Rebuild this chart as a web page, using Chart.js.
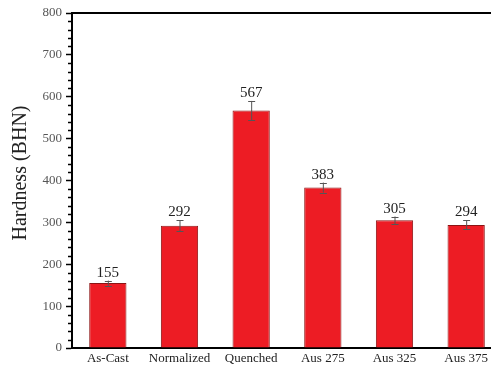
<!DOCTYPE html>
<html>
<head>
<meta charset="utf-8">
<script src="https://cdn.jsdelivr.net/npm/chart.js@4.4.1/dist/chart.umd.min.js"></script>
<style>
  html, body { margin: 0; padding: 0; background: #fff; overflow: hidden; }
  #wrap { width: 491px; height: 369px; overflow: hidden; }
</style>
</head>
<body>
<div id="wrap">
  <canvas id="myChart" width="505" height="369"></canvas>
</div>
<script>
var categories = ['As-Cast', 'Normalized', 'Quenched', 'Aus 275', 'Aus 325', 'Aus 375'];
var hardness = [155, 292, 567, 383, 305, 294];
var hardnessErr = [6, 13, 23, 12, 9, 11];
var yTicks = [0, 100, 200, 300, 400, 500, 600, 700, 800];

var serif = '"Liberation Serif", "DejaVu Serif", serif';

// frame line, minor ticks, error bars, value labels and the y title
var extras = {
  id: 'extras',
  afterDatasetsDraw: function(chart) {
    var ctx = chart.ctx;
    var area = chart.chartArea;
    var x = chart.scales.x;
    var y = chart.scales.y;
    var meta = chart.getDatasetMeta(0);

    ctx.save();

    // minor ticks every 20
    ctx.strokeStyle = '#000';
    ctx.lineWidth = 1.5;
    for (var v = 0; v <= 800; v += 20) {
      if (v % 100 === 0) continue;
      var py = Math.round(y.getPixelForValue(v)) + 0.5;
      ctx.beginPath();
      ctx.moveTo(area.left - 4, py);
      ctx.lineTo(area.left, py);
      ctx.stroke();
    }

    // top border
    ctx.lineWidth = 2;
    ctx.beginPath();
    ctx.moveTo(area.left - 1, area.top);
    ctx.lineTo(chart.width, area.top);
    ctx.stroke();

    // error bars + labels
    for (var i = 0; i < hardness.length; i++) {
      var bar = meta.data[i];
      var cx = bar.x;
      var yHi = y.getPixelForValue(hardness[i] + hardnessErr[i]);
      var yLo = y.getPixelForValue(hardness[i] - hardnessErr[i]);
      ctx.strokeStyle = '#555';
      ctx.lineWidth = 1;
      ctx.beginPath();
      ctx.moveTo(cx + 0.5, yLo);
      ctx.lineTo(cx + 0.5, yHi);
      ctx.moveTo(cx - 3, Math.round(yHi) + 0.5);
      ctx.lineTo(cx + 4, Math.round(yHi) + 0.5);
      ctx.moveTo(cx - 3, Math.round(yLo) + 0.5);
      ctx.lineTo(cx + 4, Math.round(yLo) + 0.5);
      ctx.stroke();

      ctx.fillStyle = '#222';
      ctx.font = '15px ' + serif;
      ctx.textAlign = 'center';
      ctx.textBaseline = 'alphabetic';
      ctx.fillText(String(hardness[i]), cx, yHi - 4);
    }

    // y axis title
    ctx.translate(26, 173);
    ctx.rotate(-Math.PI / 2);
    ctx.fillStyle = '#222';
    ctx.font = '20px ' + serif;
    ctx.textAlign = 'center';
    ctx.textBaseline = 'alphabetic';
    ctx.fillText('Hardness (BHN)', 0, 0);

    ctx.restore();
  }
};

var chartData = {
  labels: categories,
  datasets: [{
    label: 'Hardness',
    data: hardness,
    backgroundColor: 'rgb(237, 28, 36)',
    borderColor: 'rgb(140, 20, 20)',
    borderWidth: 1,
    borderSkipped: 'bottom',
    categoryPercentage: 1,
    barPercentage: 0.52
  }]
};

var myBar = new Chart(document.getElementById('myChart').getContext('2d'), {
  type: 'bar',
  data: chartData,
  plugins: [extras],
  options: {
    responsive: false,
    animation: false,
    layout: { padding: { top: 13, right: 3, left: 0, bottom: 0 } },
    plugins: {
      legend: { display: false },
      tooltip: { enabled: false }
    },
    scales: {
      x: {
        grid: { display: false, drawTicks: false },
        border: { display: true, color: '#000', width: 2 },
        ticks: {
          color: '#222',
          font: { family: serif, size: 13 },
          padding: 3,
          maxRotation: 0,
          autoSkip: false
        },
        afterFit: function(scale) { scale.height = 21; }
      },
      y: {
        min: 0,
        max: 800,
        afterBuildTicks: function(scale) {
          scale.ticks = yTicks.map(function(v) { return { value: v }; });
        },
        grid: {
          display: true,
          drawOnChartArea: false,
          drawTicks: true,
          tickLength: 6,
          tickColor: '#000',
          tickWidth: 1.5
        },
        border: { display: true, color: '#000', width: 2 },
        ticks: {
          color: '#555',
          font: { family: serif, size: 13 },
          padding: 4
        },
        afterFit: function(scale) { scale.width = 72; }
      }
    }
  }
});
</script>
</body>
</html>
